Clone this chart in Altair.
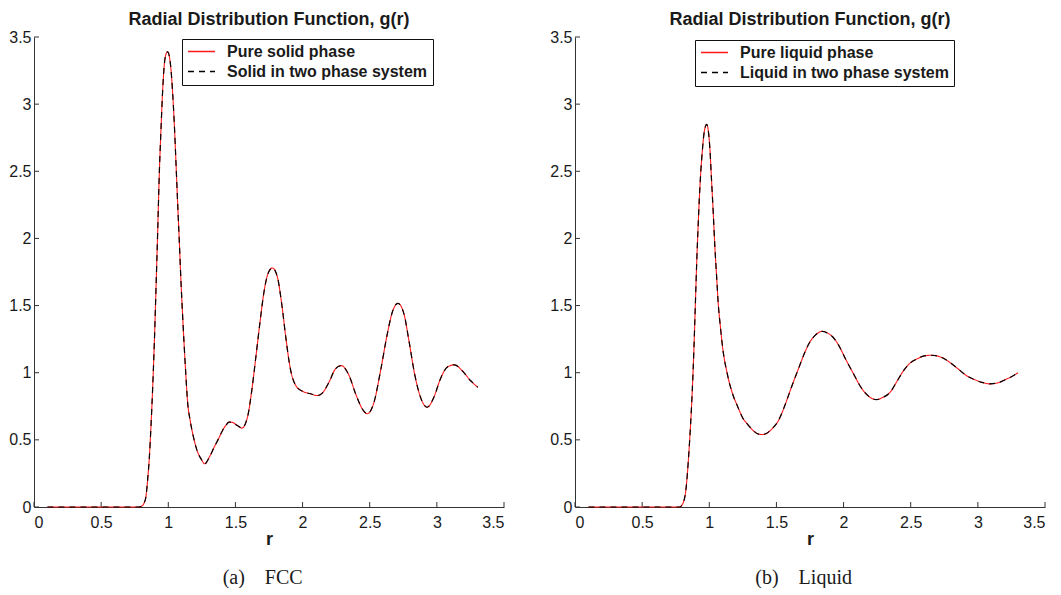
import altair as alt
import pandas as pd

# ---------------- data ----------------
fcc_r = [0.10, 0.78, 0.80, 0.82, 0.833, 0.846, 0.859, 0.871, 0.883, 0.896, 0.908, 0.921, 0.933,
         0.946, 0.958, 0.970, 0.982, 0.995, 1.007, 1.019, 1.032, 1.045, 1.057, 1.069, 1.082,
         1.094, 1.107, 1.119, 1.131, 1.143, 1.162, 1.181, 1.200, 1.218, 1.243, 1.272, 1.305,
         1.342, 1.375, 1.404, 1.430, 1.453, 1.478, 1.503, 1.525, 1.547, 1.590, 1.622, 1.652,
         1.681, 1.714, 1.746, 1.776, 1.813, 1.845, 1.875, 1.907, 1.949, 1.999, 2.060, 2.110,
         2.147, 2.197, 2.246, 2.288, 2.346, 2.395, 2.445, 2.482, 2.532, 2.581, 2.631, 2.668,
         2.710, 2.755, 2.792, 2.834, 2.878, 2.928, 2.978, 3.027, 3.077, 3.131, 3.188, 3.250, 3.305]
fcc_g = [0.0, 0.0, 0.005, 0.03, 0.074, 0.20, 0.37, 0.60, 0.87, 1.22, 1.61, 2.05, 2.48,
         2.82, 3.10, 3.29, 3.37, 3.39, 3.36, 3.27, 3.09, 2.85, 2.57, 2.28, 1.98,
         1.69, 1.42, 1.19, 0.98, 0.79, 0.65, 0.55, 0.47, 0.41, 0.36, 0.322, 0.37,
         0.446, 0.51, 0.57, 0.61, 0.632, 0.63, 0.615, 0.60, 0.587, 0.67, 0.87, 1.115,
         1.36, 1.61, 1.747, 1.78, 1.71, 1.51, 1.264, 1.04, 0.905, 0.862, 0.843, 0.83,
         0.848, 0.93, 1.03, 1.053, 0.98, 0.843, 0.73, 0.694, 0.78, 1.016, 1.289, 1.45,
         1.517, 1.438, 1.239, 0.992, 0.818, 0.743, 0.818, 0.955, 1.041, 1.059, 1.016, 0.942, 0.892]

liq_r = [0.10, 0.78, 0.80, 0.812, 0.825, 0.837, 0.849, 0.861, 0.874, 0.886, 0.896, 0.906, 0.916,
         0.926, 0.937, 0.948, 0.958, 0.970, 0.980, 0.993, 1.005, 1.017, 1.030, 1.042, 1.055,
         1.067, 1.083, 1.099, 1.114, 1.129, 1.148, 1.166, 1.185, 1.203, 1.225, 1.248, 1.290,
         1.330, 1.370, 1.400, 1.420, 1.467, 1.513, 1.568, 1.611, 1.668, 1.711, 1.744, 1.790, 1.840,
         1.890, 1.920, 1.958, 2.020, 2.083, 2.121, 2.157, 2.200, 2.245, 2.290, 2.348, 2.400,
         2.448, 2.500, 2.549, 2.600, 2.652, 2.700, 2.750, 2.800, 2.851, 2.920, 2.977, 3.030,
         3.090, 3.150, 3.203, 3.250, 3.300]
liq_g = [0.0, 0.0, 0.02, 0.05, 0.12, 0.25, 0.42, 0.62, 0.88, 1.19, 1.50, 1.81, 2.07,
         2.30, 2.50, 2.65, 2.76, 2.83, 2.85, 2.80, 2.66, 2.43, 2.18, 1.93, 1.71,
         1.51, 1.34, 1.19, 1.09, 1.016, 0.93, 0.867, 0.81, 0.768, 0.715, 0.665, 0.61,
         0.566, 0.542, 0.54, 0.545, 0.582, 0.64, 0.77, 0.89, 1.04, 1.15, 1.22, 1.28, 1.308,
         1.29, 1.266, 1.214, 1.092, 0.975, 0.905, 0.854, 0.815, 0.80, 0.815, 0.856, 0.94,
         1.017, 1.075, 1.104, 1.125, 1.13, 1.124, 1.104, 1.07, 1.03, 0.975, 0.948, 0.928,
         0.917, 0.925, 0.948, 0.97, 1.0]

tick_values = [0, 0.5, 1, 1.5, 2, 2.5, 3, 3.5]

fcc_series = ["Pure solid phase", "Solid in two phase system"]
liq_series = ["Pure liquid phase", "Liquid in two phase system"]
title_text = "Radial Distribution Function, g(r)"
captions = ["(a)\u2003FCC", "(b)\u2003Liquid"]

W, H = 470, 470
SANS = "Liberation Sans"
AXIS_COL = "#333333"
TEXT_COL = "#1a1a1a"


def panel(r, g, names, leg_x, leg_y, trail):
    pure, two = names
    df = pd.DataFrame({
        "r": list(r) + list(r),
        "g": list(g) + list(g),
        "series": [pure] * len(r) + [two] * len(r),
    })
    legend = alt.Legend(
        title=None, orient="none", legendX=leg_x, legendY=leg_y, direction="vertical",
        symbolType="stroke", symbolSize=729, symbolStrokeWidth=1.3, clipHeight=15,
        labelFont=SANS, labelFontSize=16, labelFontWeight="bold", labelColor=TEXT_COL,
        labelExpr="datum.label + '" + trail + "'",
        strokeColor="#111111", fillColor="white", padding=5, rowPadding=3,
        labelOffset=11, labelLimit=400,
    )
    color = alt.Color("series:N", scale=alt.Scale(domain=[pure, two], range=["#ff1a1a", "#000000"]),
                      legend=legend)
    dash = alt.StrokeDash("series:N", scale=alt.Scale(domain=[pure, two], range=[[1, 0], [6, 5]]),
                          legend=legend)
    xenc = alt.X("r:Q", scale=alt.Scale(domain=[0, 3.5], nice=False, zero=False), title="r",
                 axis=alt.Axis(values=tick_values, format="~g", ticks=False, tickSize=0, grid=False,
                               labelFont=SANS, labelFontSize=16, labelColor=TEXT_COL, labelPadding=7,
                               domainColor=AXIS_COL, titleFont=SANS, titleFontSize=18,
                               titleFontWeight="bold", titleColor=TEXT_COL, titlePadding=0))
    yenc = alt.Y("g:Q", scale=alt.Scale(domain=[0, 3.5], nice=False), title=None,
                 axis=alt.Axis(values=tick_values, format="~g", ticks=False, tickSize=0, grid=False,
                               labelFont=SANS, labelFontSize=16, labelColor=TEXT_COL, labelPadding=3,
                               domainColor=AXIS_COL))
    base = alt.Chart(df).encode(x=xenc, y=yenc, color=color, strokeDash=dash)
    red = base.mark_line(strokeWidth=1.1, interpolate="monotone").transform_filter(
        alt.datum.series == pure)
    black = base.mark_line(strokeWidth=1.2, interpolate="monotone").transform_filter(
        alt.datum.series == two)

    xt = alt.Chart(pd.DataFrame({"r": tick_values})).mark_rule(color=AXIS_COL, strokeWidth=1).encode(
        x=alt.X("r:Q", title="r"), y=alt.value(H), y2=alt.value(H - 5))
    yt = alt.Chart(pd.DataFrame({"g": tick_values})).mark_rule(color=AXIS_COL, strokeWidth=1).encode(
        y=alt.Y("g:Q", title=None), x=alt.value(0), x2=alt.value(5))

    return alt.layer(red, black, xt, yt).properties(
        width=W, height=H,
        title=alt.TitleParams(title_text, font=SANS, fontSize=18, fontWeight="bold", color=TEXT_COL,
                              anchor="middle", frame="group", offset=0),
    )


def with_caption(ch, text):
    return alt.vconcat(ch, title=alt.TitleParams(text, orient="bottom", anchor="middle",
                                                 font="Liberation Serif", fontSize=20,
                                                 fontWeight="normal", color=TEXT_COL,
                                                 offset=20, dx=6))


left = with_caption(panel(fcc_r, fcc_g, fcc_series, 148, 2, "\u2005"), captions[0])
right = with_caption(panel(liq_r, liq_g, liq_series, 120, 3, "\u2003"), captions[1])

chart = alt.hconcat(left, right, spacing=44).resolve_scale(
    color="independent", strokeDash="independent"
).properties(padding={"left": 0, "top": 3, "right": 0, "bottom": 0}).configure_view(stroke=None)

chart.save("out.html", embed_options={"renderer": "svg", "actions": False})
